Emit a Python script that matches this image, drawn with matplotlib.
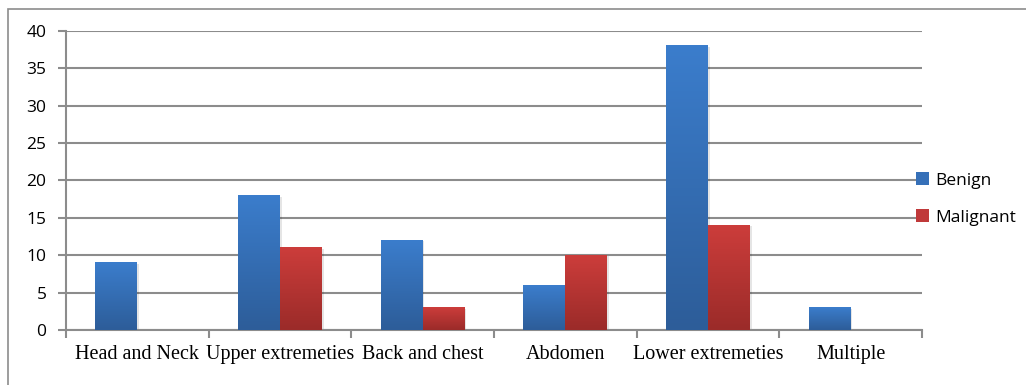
import numpy as np
import matplotlib.pyplot as plt
from matplotlib.patches import Rectangle
from matplotlib.colors import LinearSegmentedColormap

categories = ["Head and Neck", "Upper extremeties", "Back and chest",
              "Abdomen", "Lower extremeties", "Multiple"]
benign = [9, 18, 12, 6, 38, 3]
malignant = [0, 11, 3, 10, 14, 0]
series = ["Benign", "Malignant"]

blue_cmap = LinearSegmentedColormap.from_list("b", ["#2d5d99", "#3b7dcc"])
red_cmap = LinearSegmentedColormap.from_list("r", ["#9b2b29", "#cc3d3b"])

fig = plt.figure(figsize=(10.26, 3.85), dpi=100)
# outer frame (Excel chart border)
fig.patches.append(Rectangle((8 / 1026, -0.05), 1.2, 1 - 9 / 385 + 0.05,
                             transform=fig.transFigure, fill=False,
                             edgecolor="#8c8c8c", lw=1.2))

ax = fig.add_axes([66 / 1026, 1 - 330 / 385, 856 / 1026, 299 / 385])
ax.set_xlim(0, 6)
ax.set_ylim(0, 40)

bw = 0.294
x = np.arange(len(categories)) + 0.5
grad = np.linspace(0, 1, 100).reshape(-1, 1)


def gradient_bars(xs, vals, cmap, label, color):
    for xi, v in zip(xs, vals):
        if v <= 0:
            continue
        # soft shadow
        ax.add_patch(Rectangle((xi - bw / 2 + 0.012, 0), bw, v - 0.15,
                               facecolor="#000000", alpha=0.10, lw=0, zorder=2))
        ax.imshow(grad, cmap=cmap, origin="lower", aspect="auto",
                  extent=(xi - bw / 2, xi + bw / 2, 0, v), zorder=3)
    ax.bar([0], [0], color=color, label=label)


gradient_bars(x - bw / 2, benign, blue_cmap, series[0], "#3670b8")
gradient_bars(x + bw / 2, malignant, red_cmap, series[1], "#c0393a")
ax.set_xlim(0, 6)
ax.set_ylim(0, 40)

ax.set_yticks(np.arange(0, 41, 5))
ax.yaxis.grid(True, color="#8c8c8c", lw=1.5)
ax.set_axisbelow(True)
ax.set_xticks(np.arange(0, 7), minor=False)
ax.set_xticklabels([])
ax.set_xticks(x, minor=True)
ax.set_xticklabels(categories, minor=True, fontfamily="Liberation Serif",
                   fontsize=14.5)
ax.tick_params(axis="x", which="minor", length=0, pad=11)
ax.tick_params(axis="x", which="major", length=6, color="#8c8c8c", width=1.5)
ax.tick_params(axis="y", length=6, color="#8c8c8c", width=1.5, pad=8)
for t in ax.get_yticklabels():
    t.set_fontfamily("Open Sans")
    t.set_fontsize(12.5)

for s in ["top", "right"]:
    ax.spines[s].set_visible(False)
for s in ["left", "bottom"]:
    ax.spines[s].set_color("#8c8c8c")
    ax.spines[s].set_linewidth(1.5)

leg = ax.legend(loc="center left", bbox_to_anchor=(0.993, 0.438), frameon=False,
                prop={"family": "Open Sans", "size": 12.5}, handlelength=0.75,
                handleheight=0.75, handletextpad=0.35, labelspacing=1.2,
                borderaxespad=0, borderpad=0)

plt.savefig("out.png", dpi=100)
